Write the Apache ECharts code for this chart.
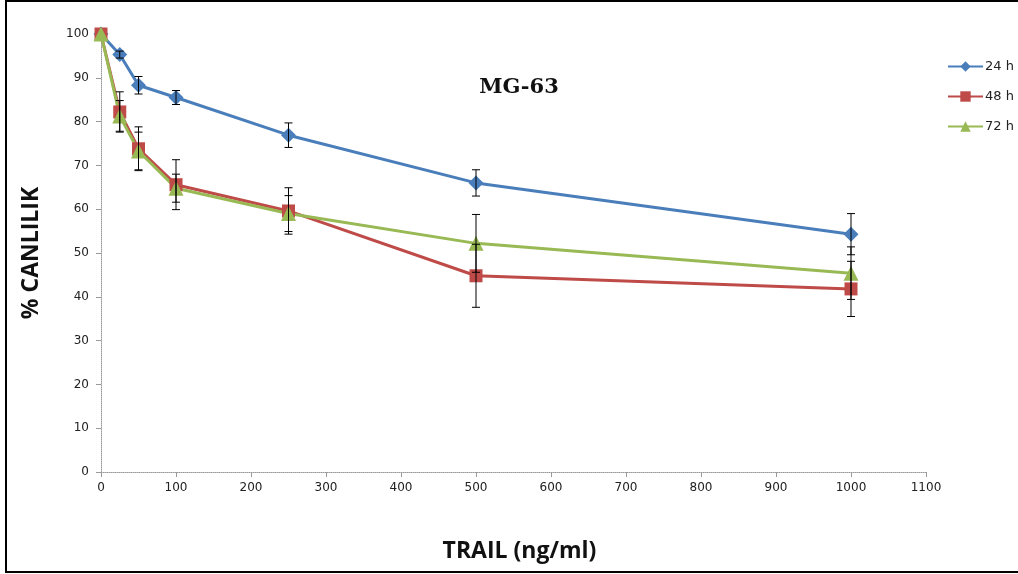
<!DOCTYPE html>
<html><head><meta charset="utf-8">
<script src="https://cdn.jsdelivr.net/npm/echarts@6/dist/echarts.min.js"></script>
<style>html,body{margin:0;padding:0;background:#fff}#c{width:1018px;height:574px}</style>
</head><body><div id="c"></div>
<script>
const doses = [0, 25, 50, 100, 250, 500, 1000];
const h24 = [100, 95.3, 88.3, 85.5, 76.9, 66.0, 54.3];
const h48 = [100, 82.2, 73.8, 65.6, 59.6, 44.8, 41.8];
const h72 = [100, 81.3, 73.3, 64.8, 59.0, 52.2, 45.4];
const err24 = [0, 0.8, 2.0, 1.6, 2.8, 3.0, 4.7];
const err48 = [0, 4.6, 5.0, 5.7, 5.3, 7.2, 6.3];
const err72 = [0, 3.5, 4.3, 3.2, 4.1, 6.6, 6.0];
const names = ['24 h', '48 h', '72 h'];
const colors = ['#4a7ebb', '#be4b48', '#98b954'];
const symbols = ['diamond', 'rect', 'triangle'];
const symSizes = [15, 13, 15];

const chart = echarts.init(document.getElementById('c'));
const vals = [h24, h48, h72], errs = [err24, err48, err72];
const series = [];
vals.forEach((v, i) => {
  series.push({
    name: names[i], type: 'line', data: doses.map((d, k) => [d, v[k]]),
    symbol: symbols[i], symbolSize: symSizes[i], showAllSymbol: true,
    lineStyle: {width: 3, color: colors[i]}, itemStyle: {color: colors[i]}, z: 2
  });
});
vals.forEach((v, i) => {
  series.push({
    type: 'custom', z: 5, silent: true,
    data: doses.map((d, k) => [d, v[k] - errs[i][k], v[k] + errs[i][k]]).filter((r, k) => errs[i][k] > 0),
    renderItem: function (params, api) {
      const lo = api.coord([api.value(0), api.value(1)]);
      const hi = api.coord([api.value(0), api.value(2)]);
      const w = 4;
      const st = {stroke: '#000', lineWidth: 1};
      return {type: 'group', children: [
        {type: 'line', shape: {x1: lo[0], y1: lo[1], x2: hi[0], y2: hi[1]}, style: st},
        {type: 'line', shape: {x1: lo[0] - w, y1: lo[1], x2: lo[0] + w, y2: lo[1]}, style: st},
        {type: 'line', shape: {x1: hi[0] - w, y1: hi[1], x2: hi[0] + w, y2: hi[1]}, style: st}
      ]};
    }
  });
});

chart.setOption({
  animation: false,
  textStyle: {fontFamily: 'DejaVu Sans'},
  grid: {left: 101, right: 92, top: 34, bottom: 102},
  title: {text: 'MG-63', left: 514, top: 72, textAlign: 'center',
    textStyle: {fontFamily: 'DejaVu Serif', fontWeight: 'bold', fontSize: 21, color: '#111'}},
  legend: {
    orient: 'vertical', left: 942, top: 55, itemGap: 17, itemWidth: 35, itemHeight: 13,
    data: names, textStyle: {fontSize: 13, color: '#222', fontFamily: 'DejaVu Sans', padding: [0, 0, 0, -3]}
  },
  xAxis: {
    type: 'value', min: 0, max: 1100, interval: 100,
    name: 'TRAIL (ng/ml)', nameLocation: 'middle', nameGap: 68,
    nameTextStyle: {fontFamily: 'Open Sans', fontWeight: 'bold', fontSize: 23, color: '#111', padding: [0, 0, 0, 12]},
    axisLine: {lineStyle: {color: '#999', type: 'dotted'}},
    axisTick: {show: true, length: 5, lineStyle: {color: '#999'}},
    axisLabel: {fontSize: 12, color: '#222', margin: 10, formatter: v => String(v)},
    splitLine: {show: false}
  },
  yAxis: {
    type: 'value', min: 0, max: 100, interval: 10,
    name: '% CANLILIK', nameLocation: 'middle', nameGap: 58,
    nameTextStyle: {fontFamily: 'Open Sans', fontWeight: 'bold', fontSize: 23, color: '#111'},
    axisLine: {show: true, lineStyle: {color: '#999', type: 'dotted'}},
    axisTick: {show: true, length: 5, lineStyle: {color: '#999'}},
    axisLabel: {fontSize: 12, color: '#222', margin: 12},
    splitLine: {show: false}
  },
  graphic: [{type: 'rect', shape: {x: 6, y: 1, width: 1020, height: 571},
    style: {fill: 'none', stroke: '#000', lineWidth: 2}, silent: true, z: 100}],
  series: series
});
</script></body></html>
